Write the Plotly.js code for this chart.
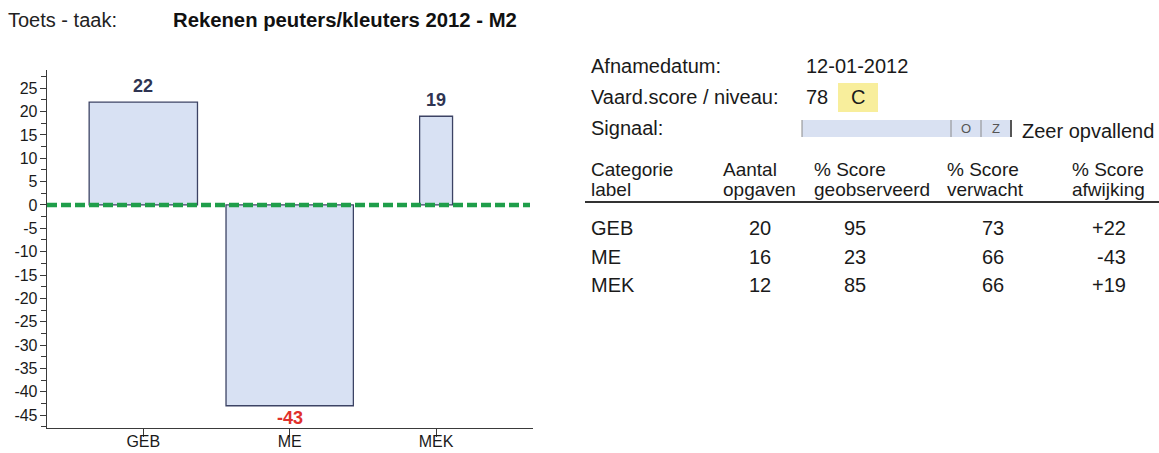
<!DOCTYPE html>
<html>
<head>
<meta charset="utf-8">
<script src="https://cdn.plot.ly/plotly-3.0.1.min.js"></script>
<style>
html,body{margin:0;padding:0;background:#fff;}
#chart{width:1159px;height:453px;}
</style>
</head>
<body>
<div id="chart"></div>
<script>
// ---------- DATA ----------
const testLabel = 'Toets - taak:';
const testName = 'Rekenen peuters/kleuters 2012 - M2';
const dateLabel = 'Afnamedatum:';
const dateValue = '12-01-2012';
const scoreLabel = 'Vaard.score / niveau:';
const scoreValue = 78;
const levelValue = 'C';
const signalLabel = 'Signaal:';
const signalMarks = ['O', 'Z'];
const signalText = 'Zeer opvallend';

const categories = ['GEB', 'ME', 'MEK'];
const deviation = [22, -43, 19];
const itemCounts = [20, 16, 12];
const observedPct = [95, 23, 85];
const expectedPct = [73, 66, 66];

const headerLine1 = ['Categorie', 'Aantal', '% Score', '% Score', '% Score'];
const headerLine2 = ['label', 'opgaven', 'geobserveerd', 'verwacht', 'afwijking'];
const yTickValues = [-45, -40, -35, -30, -25, -20, -15, -10, -5, 0, 5, 10, 15, 20, 25];
const yTickLabels = yTickValues.map(v => String(v));

// ---------- LAYOUT HELPERS ----------
const W = 1159, H = 453;
const X = p => p / W;
const Y = p => 1 - p / H;
const FONT = 'Liberation Sans, Arial, sans-serif';
const barWidths = [0.74, 0.87, 0.225];

const fmtSigned = v => (v > 0 ? '+' : '') + v;

const annotations = [];
const shapes = [];

function txt(text, x, y, opts) {
  opts = opts || {};
  annotations.push({
    xref: 'paper', yref: 'paper', x: X(x), y: Y(y),
    xanchor: opts.xanchor || 'left', yanchor: 'middle',
    text: text, showarrow: false,
    font: {family: FONT, size: opts.size || 20, color: opts.color || '#1a1a1a'}
  });
}

// heading
txt(testLabel, 6, 20, {size: 20, color: '#222'});
txt('<b>' + testName + '</b>', 171, 20, {size: 20.3, color: '#111'});

// info block
txt(dateLabel, 589, 66);
txt(dateValue, 804, 66);
txt(scoreLabel, 589, 97);
txt(String(scoreValue), 804, 97);
shapes.push({type: 'rect', xref: 'paper', yref: 'paper', x0: X(838), x1: X(878), y0: Y(112), y1: Y(83),
  fillcolor: '#f8ee9c', line: {width: 0}, layer: 'below'});
txt(levelValue, 858, 97, {xanchor: 'center'});
txt(signalLabel, 589, 128);
shapes.push({type: 'rect', xref: 'paper', yref: 'paper', x0: X(802), x1: X(1010), y0: Y(137), y1: Y(120),
  fillcolor: '#d9e1f2', line: {width: 0}, layer: 'below'});
shapes.push({type: 'line', xref: 'paper', yref: 'paper', x0: X(802), x1: X(802), y0: Y(137), y1: Y(120),
  line: {color: '#8a8a8a', width: 1}});
shapes.push({type: 'line', xref: 'paper', yref: 'paper', x0: X(951), x1: X(951), y0: Y(137), y1: Y(120),
  line: {color: '#8a8a8a', width: 1}});
shapes.push({type: 'line', xref: 'paper', yref: 'paper', x0: X(981), x1: X(981), y0: Y(137), y1: Y(120),
  line: {color: '#8a8a8a', width: 1}});
shapes.push({type: 'line', xref: 'paper', yref: 'paper', x0: X(1011), x1: X(1011), y0: Y(137), y1: Y(120),
  line: {color: '#555', width: 2}});
txt(signalMarks[0], 966, 128, {xanchor: 'center', size: 13, color: '#555'});
txt(signalMarks[1], 996, 128, {xanchor: 'center', size: 13, color: '#555'});
txt(signalText, 1020, 131);

// table header
const colX = [589, 721, 812, 945, 1070];
headerLine1.forEach((t, i) => txt(t, colX[i], 170, {size: 19}));
headerLine2.forEach((t, i) => txt(t, colX[i], 190, {size: 19}));
shapes.push({type: 'line', xref: 'paper', yref: 'paper', x0: X(585), x1: X(1159), y0: Y(202), y1: Y(202),
  line: {color: '#333', width: 2}});

// table rows
const rowY = [228, 257, 285];
categories.forEach((c, i) => {
  txt(c, 589, rowY[i]);
  txt(String(itemCounts[i]), 760, rowY[i], {xanchor: 'center'});
  txt(String(observedPct[i]), 855, rowY[i], {xanchor: 'center'});
  txt(String(expectedPct[i]), 993, rowY[i], {xanchor: 'center'});
  txt(fmtSigned(deviation[i]), 1128, rowY[i], {xanchor: 'right'});
});

// bar value labels
categories.forEach((c, i) => {
  const pos = deviation[i] >= 0;
  annotations.push({
    xref: 'x', yref: 'y', x: c, y: deviation[i],
    xanchor: 'center', yanchor: pos ? 'bottom' : 'top', yshift: pos ? 4 : 0,
    text: '<b>' + deviation[i] + '</b>', showarrow: false,
    font: {family: FONT, size: 18, color: pos ? '#2f3452' : '#e0302b'}
  });
});

// green zero reference line
shapes.push({type: 'line', xref: 'paper', yref: 'y', x0: X(47), x1: X(530), y0: 0, y1: 0,
  line: {color: '#1f9e4a', width: 4.5, dash: '10px,4px'}, layer: 'above'});

const trace = {
  type: 'bar',
  x: categories,
  y: deviation,
  width: barWidths,
  marker: {color: '#d8e1f3', line: {color: '#3c4364', width: 1.3}},
  hoverinfo: 'x+y'
};

const layout = {
  width: W, height: H,
  margin: {l: 0, r: 0, t: 0, b: 0},
  paper_bgcolor: '#ffffff',
  plot_bgcolor: '#ffffff',
  showlegend: false,
  font: {family: FONT, color: '#1a1a1a'},
  xaxis: {
    type: 'category',
    domain: [X(46.7), X(532.7)],
    range: [-0.66, 2.66],
    showline: true, linecolor: '#3a3a3a', linewidth: 1,
    ticks: 'outside', ticklen: 8, tickcolor: '#3a3a3a', tickwidth: 1,
    showgrid: false, zeroline: false,
    tickfont: {family: FONT, size: 16, color: '#1a1a1a'},
    ticklabelstandoff: -9,
    automargin: false, fixedrange: true
  },
  yaxis: {
    domain: [Y(427.7), Y(70)],
    range: [-47.7, 28.9],
    tickmode: 'array', tickvals: yTickValues, ticktext: yTickLabels,
    showline: true, linecolor: '#3a3a3a', linewidth: 1,
    ticks: 'outside', ticklen: 6, tickcolor: '#3a3a3a', tickwidth: 1,
    minor: {tickmode: 'linear', tick0: 0, dtick: 2.5, ticks: 'outside', ticklen: 5, tickcolor: '#3a3a3a', tickwidth: 1},
    showgrid: false, zeroline: false,
    tickfont: {family: FONT, size: 16, color: '#1a1a1a'},
    ticklabelstandoff: -1,
    automargin: false, fixedrange: true
  },
  annotations: annotations,
  shapes: shapes,
  bargap: 0
};

Plotly.newPlot('chart', [trace], layout, {displayModeBar: false, staticPlot: true});
</script>
</body>
</html>
